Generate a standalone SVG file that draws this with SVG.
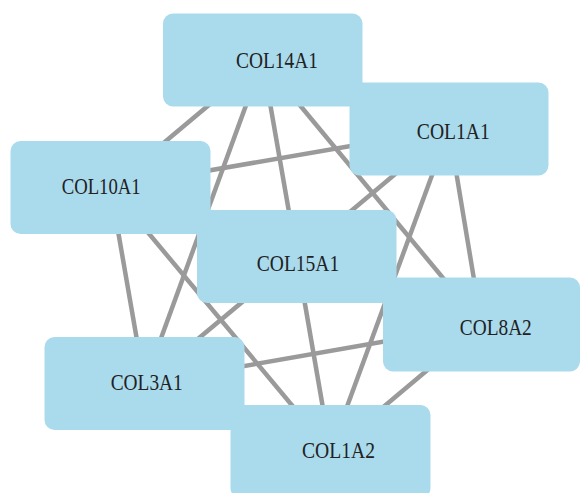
<svg xmlns="http://www.w3.org/2000/svg" width="580" height="493" viewBox="0 0 580 493">
<style>
.e{stroke:#9a9a9a;stroke-width:4.5;fill:none}
.n{fill:#aadbed}
.t{font-family:"Liberation Serif","Times New Roman",serif;font-size:22.5px;fill:#222;text-anchor:middle}
</style>
<rect width="580" height="493" fill="#fff"/>
<g id="edges">
<line class="e" x1="262.5" y1="60" x2="110.5" y2="187.5"/>
<line class="e" x1="262.5" y1="60" x2="481.5" y2="324.5"/>
<line class="e" x1="262.5" y1="60" x2="144.5" y2="383.5"/>
<line class="e" x1="262.5" y1="60" x2="296.75" y2="256.5"/>
<line class="e" x1="296.75" y1="256.5" x2="330.5" y2="451.5"/>
<line class="e" x1="449" y1="129" x2="296.75" y2="256.5"/>
<line class="e" x1="296.75" y1="256.5" x2="144.5" y2="383.5"/>
<line class="e" x1="449" y1="129" x2="110.5" y2="187.5"/>
<line class="e" x1="449" y1="129" x2="481.5" y2="324.5"/>
<line class="e" x1="449" y1="129" x2="330.5" y2="451.5"/>
<line class="e" x1="110.5" y1="187.5" x2="144.5" y2="383.5"/>
<line class="e" x1="110.5" y1="187.5" x2="330.5" y2="451.5"/>
<line class="e" x1="481.5" y1="324.5" x2="144.5" y2="383.5"/>
<line class="e" x1="481.5" y1="324.5" x2="330.5" y2="451.5"/>
</g>
<g id="COL14A1"><rect class="n" x="163" y="13.5" width="199.5" height="93" rx="10"/><text class="t" x="277" y="67.7" textLength="82" lengthAdjust="spacingAndGlyphs">COL14A1</text></g>
<g id="COL1A1"><rect class="n" x="349.5" y="82.5" width="199" height="93" rx="10"/><text class="t" x="453.3" y="139.3" textLength="73" lengthAdjust="spacingAndGlyphs">COL1A1</text></g>
<g id="COL10A1"><rect class="n" x="10.5" y="141" width="200" height="93" rx="10"/><text class="t" x="101.2" y="194.3" textLength="79" lengthAdjust="spacingAndGlyphs">COL10A1</text></g>
<g id="COL15A1"><rect class="n" x="197" y="210" width="199.5" height="93" rx="10"/><text class="t" x="298" y="270.7" textLength="82.5" lengthAdjust="spacingAndGlyphs">COL15A1</text></g>
<g id="COL8A2"><rect class="n" x="383" y="277.5" width="197" height="94" rx="10"/><text class="t" x="495.8" y="335" textLength="72" lengthAdjust="spacingAndGlyphs">COL8A2</text></g>
<g id="COL3A1"><rect class="n" x="44.5" y="337" width="200" height="93" rx="10"/><text class="t" x="146.7" y="390" textLength="72" lengthAdjust="spacingAndGlyphs">COL3A1</text></g>
<g id="COL1A2"><rect class="n" x="230.5" y="405" width="200" height="93" rx="10"/><text class="t" x="338.5" y="458.3" textLength="73" lengthAdjust="spacingAndGlyphs">COL1A2</text></g>
</svg>
